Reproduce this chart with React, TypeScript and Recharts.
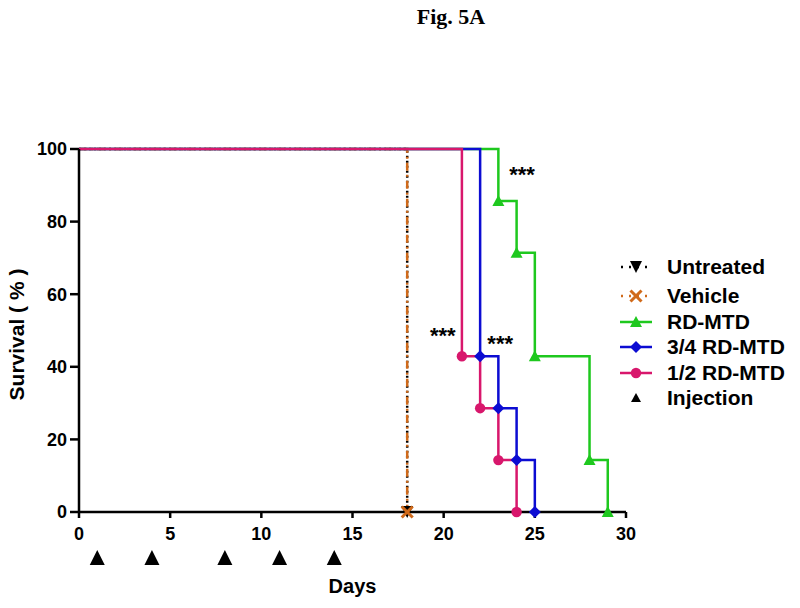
import React from "react";
import { ComposedChart, Line, Scatter, XAxis, YAxis } from "recharts";

const xTicks = [0, 5, 10, 15, 20, 25, 30];
const yTicks = [0, 20, 40, 60, 80, 100];

const untreated = [
  { day: 0, pct: 100 },
  { day: 18, pct: 0 },
];
const vehicle = [
  { day: 0, pct: 100 },
  { day: 18, pct: 0 },
];
const rdMtd = [
  { day: 0, pct: 100 },
  { day: 23, pct: 85.7 },
  { day: 24, pct: 71.4 },
  { day: 25, pct: 42.9 },
  { day: 28, pct: 14.3 },
  { day: 29, pct: 0 },
];
const threeQuarter = [
  { day: 0, pct: 100 },
  { day: 22, pct: 42.9 },
  { day: 23, pct: 28.6 },
  { day: 24, pct: 14.3 },
  { day: 25, pct: 0 },
];
const half = [
  { day: 0, pct: 100 },
  { day: 21, pct: 42.9 },
  { day: 22, pct: 28.6 },
  { day: 23, pct: 14.3 },
  { day: 24, pct: 0 },
];
const injectionDays = [1, 4, 8, 11, 14];
const stars = [
  { day: 24.3, pct: 90.9, text: "***" },
  { day: 19.95, pct: 46.5, text: "***" },
  { day: 23.1, pct: 44.3, text: "***" },
];

const FONT = "'Liberation Sans', Arial, sans-serif";
const GREEN = "#1ec81e";
const BLUE = "#0c0cd2";
const PINK = "#d8176c";
const ORANGE = "#d06a1a";

type Kind = "down" | "x" | "up" | "diamond" | "circle";

function marker(kind: Kind, cx: number, cy: number, color: string, key?: string, s = 6) {
  if (kind === "down")
    return <path key={key} d={`M${cx - s},${cy - s}L${cx + s},${cy - s}L${cx},${cy + s}Z`} fill={color} />;
  if (kind === "up")
    return <path key={key} d={`M${cx},${cy - s}L${cx + s},${cy + s - 1}L${cx - s},${cy + s - 1}Z`} fill={color} />;
  if (kind === "diamond")
    return <path key={key} d={`M${cx},${cy - s}L${cx + s},${cy}L${cx},${cy + s}L${cx - s},${cy}Z`} fill={color} />;
  if (kind === "circle") return <circle key={key} cx={cx} cy={cy} r={s - 0.8} fill={color} />;
  const h = s - 0.5;
  return (
    <path
      key={key}
      d={`M${cx - h},${cy - h}L${cx + h},${cy + h}M${cx + h},${cy - h}L${cx - h},${cy + h}`}
      stroke={color}
      strokeWidth={3}
      fill="none"
    />
  );
}

const series = [
  { name: "Untreated", data: untreated, color: "#000", kind: "down" as Kind, dash: "2 3" },
  { name: "Vehicle", data: vehicle, color: ORANGE, kind: "x" as Kind, dash: "8 4 2 4" },
  { name: "RD-MTD", data: rdMtd, color: GREEN, kind: "up" as Kind, dash: undefined },
  { name: "3/4 RD-MTD", data: threeQuarter, color: BLUE, kind: "diamond" as Kind, dash: undefined },
  { name: "1/2 RD-MTD", data: half, color: PINK, kind: "circle" as Kind, dash: undefined },
];

function LegendBox() {
  return (
    <div
      style={{
        position: "absolute",
        left: 617,
        top: 254,
        fontFamily: FONT,
        fontWeight: "bold",
        fontSize: 21,
        color: "#000",
        lineHeight: "22px",
      }}
    >
      {series.map((s, i) => (
        <div key={s.name} style={{ display: "flex", alignItems: "center", height: 25.5, marginBottom: i === 0 ? 4 : 0 }}>
          <svg width={40} height={20} style={{ marginRight: 10 }}>
            {s.dash ? (
              <line x1={4} y1={10} x2={34} y2={10} stroke={s.color} strokeWidth={2.5} strokeDasharray="2 6" />
            ) : (
              <line x1={3} y1={10} x2={35} y2={10} stroke={s.color} strokeWidth={2.5} />
            )}
            {marker(s.kind, 19, 10, s.color, undefined, 6)}
          </svg>
          <span>{s.name}</span>
        </div>
      ))}
      <div style={{ display: "flex", alignItems: "center", height: 25.5 }}>
        <svg width={40} height={20} style={{ marginRight: 10 }}>
          <path d="M19,5L24,14L14,14Z" fill="#000" />
        </svg>
        <span>Injection</span>
      </div>
    </div>
  );
}

export default function App() {
  return (
    <div style={{ position: "absolute", left: 0, top: 0, width: 800, height: 608, background: "#fff" }}>
      <div
        style={{
          position: "absolute",
          left: 0,
          width: 902,
          top: 4,
          textAlign: "center",
          fontFamily: "'Liberation Serif', 'Times New Roman', serif",
          fontWeight: "bold",
          fontSize: 22,
        }}
      >
        Fig. 5A
      </div>
      <ComposedChart width={800} height={608} margin={{ top: 149, right: 174, bottom: 66, left: 19 }}>
        <XAxis
          type="number"
          dataKey="day"
          domain={[0, 30]}
          ticks={xTicks}
          height={30}
          axisLine={{ stroke: "#000", strokeWidth: 2.5 }}
          tickLine={{ stroke: "#000", strokeWidth: 2.5 }}
          tickSize={6}
          tickMargin={9}
          tick={{ fill: "#000", fontSize: 18, fontWeight: "bold", fontFamily: FONT }}
          label={{
            content: ({ viewBox }: any) => (
              <text
                x={viewBox.x + viewBox.width / 2}
                y={viewBox.y + 81}
                textAnchor="middle"
                fontFamily={FONT}
                fontWeight="bold"
                fontSize={20}
                fill="#000"
              >
                Days
              </text>
            ),
          }}
        />
        <YAxis
          type="number"
          dataKey="pct"
          domain={[0, 100]}
          ticks={yTicks}
          width={60}
          axisLine={{ stroke: "#000", strokeWidth: 2.5 }}
          tickLine={{ stroke: "#000", strokeWidth: 2.5 }}
          tickSize={9}
          tickMargin={3}
          tick={{ fill: "#000", fontSize: 18, fontWeight: "bold", fontFamily: FONT }}
          label={{
            content: ({ viewBox }: any) => {
              const cx = viewBox.x + 5;
              const cy = viewBox.y + viewBox.height / 2 + 4;
              return (
                <text
                  x={cx}
                  y={cy}
                  transform={`rotate(-90 ${cx} ${cy})`}
                  textAnchor="middle"
                  fontFamily={FONT}
                  fontWeight="bold"
                  fontSize={21}
                  fill="#000"
                >
                  Survival ( % )
                </text>
              );
            },
          }}
        />
        {series.map((s) => (
          <Line
            key={s.name}
            name={s.name}
            data={s.data}
            dataKey="pct"
            type="stepAfter"
            stroke={s.color}
            strokeWidth={2.5}
            strokeDasharray={s.dash}
            isAnimationActive={false}
            dot={(p: any) =>
              p.index === 0 ? <g key={`${s.name}-${p.index}`} /> : marker(s.kind, p.cx, p.cy, s.color, `${s.name}-${p.index}`)
            }
            activeDot={false}
          />
        ))}
        <Scatter
          name="Injection"
          data={injectionDays.map((d) => ({ day: d, pct: 0 }))}
          isAnimationActive={false}
          shape={(p: any) => (
            <path d={`M${p.cx},${p.cy + 38}L${p.cx + 7.5},${p.cy + 53}L${p.cx - 7.5},${p.cy + 53}Z`} fill="#000" />
          )}
        />
        <Scatter
          name="stars"
          data={stars}
          isAnimationActive={false}
          shape={(p: any) => (
            <text x={p.cx} y={p.cy} textAnchor="middle" fontFamily={FONT} fontWeight="bold" fontSize={22} fill="#000">
              {p.payload.text}
            </text>
          )}
        />
      </ComposedChart>
      <LegendBox />
    </div>
  );
}
